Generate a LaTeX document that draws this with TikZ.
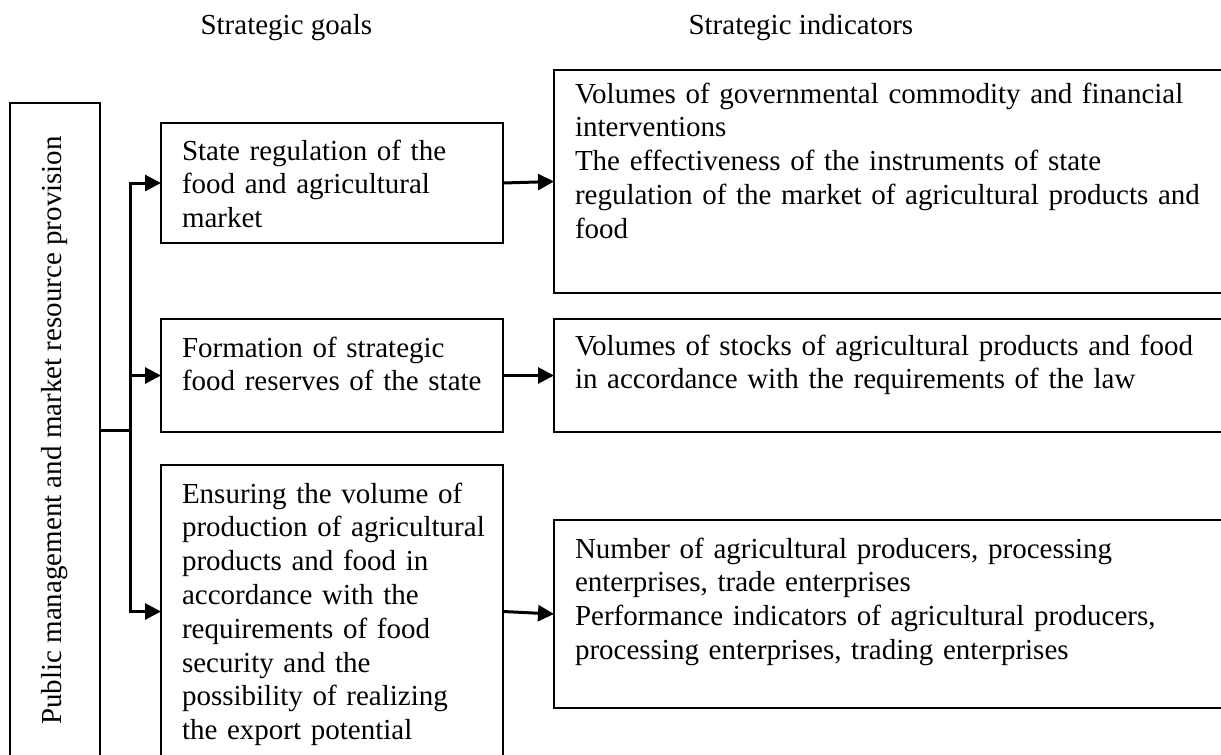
\documentclass[tikz,border=0pt]{standalone}
\usepackage{fontspec}
\setmainfont{Liberation Serif}
\usepackage{graphicx}
\usetikzlibrary{arrows.meta}

\tikzset{
  txt/.style={font=\fontsize{29}{33.8}\selectfont},
  panel/.style 2 args={txt, draw, line width=1.1pt, anchor=north west,
    inner sep=0pt, outer sep=0pt, align=left,
    text height=#1pt, text depth=#2pt,
    execute at begin node={\leftskip=21pt\rightskip=-40pt plus 2em}},
  goal/.style 2 args={panel={#1}{#2}, text width=342pt},
  indic/.style 2 args={panel={#1}{#2}, text width=672pt},
  tip/.tip={Triangle[length=16pt,width=16pt]},
  link/.style={line width=3pt, -tip},
}

\begin{document}
\begin{tikzpicture}[x=1pt, y=-1pt]
    \useasboundingbox (0,0) rectangle (1221,755);
    \clip (0,0) rectangle (1221,755);
    \node[txt, anchor=base west] (goals) at (197,34) {Strategic goals};
    \node[txt, anchor=base west] (indicators) at (685,34) {Strategic indicators};
    \node[txt, draw, line width=1.1pt, minimum width=90pt, minimum height=655pt,
      inner sep=0pt, outer sep=0pt] (main) at (55,430.5)
      {\rotatebox{90}{Public management and market resource provision}};
    \node[goal={37}{83}] (g1) at (161,123) {State regulation of the\\food and agricultural\\market};
    \node[goal={38}{75}] (g2) at (161,319) {Formation of strategic\\food reserves of the state};
    \node[goal={38}{255}] (g3) at (161,465) {Ensuring the volume of\\production of agricultural\\products and food in\\accordance with the\\requirements of food\\security and the\\possibility of realizing\\the export potential};
    \node[indic={33}{190}] (i1) at (554,70) {Volumes of governmental commodity and financial\\interventions\\The effectiveness of the instruments of state\\regulation of the market of agricultural products and\\food};
    \node[indic={36}{77}] (i2) at (554,319) {Volumes of stocks of agricultural products and food\\in accordance with the requirements of the law};
    \node[indic={38}{150}] (i3) at (554,520) {Number of agricultural producers, processing\\enterprises, trade enterprises\\Performance indicators of agricultural producers,\\processing enterprises, trading enterprises};
    \coordinate (bus) at ([xshift=30pt]main.east);
    \draw[line width=3pt] (main.east) -- (bus);
    \draw[line width=3pt, tip-tip] (g1.west) -- (g1.west -| bus) -- (g3.west -| bus) -- (g3.west);
    \draw[link] (g2.west -| bus) -- (g2.west);
    \draw[link] (g1.east) -- (i1.west);
    \draw[link] (g2.east) -- (i2.west);
    \draw[link] (g3.east) -- (i3.west);
\end{tikzpicture}
\end{document}
